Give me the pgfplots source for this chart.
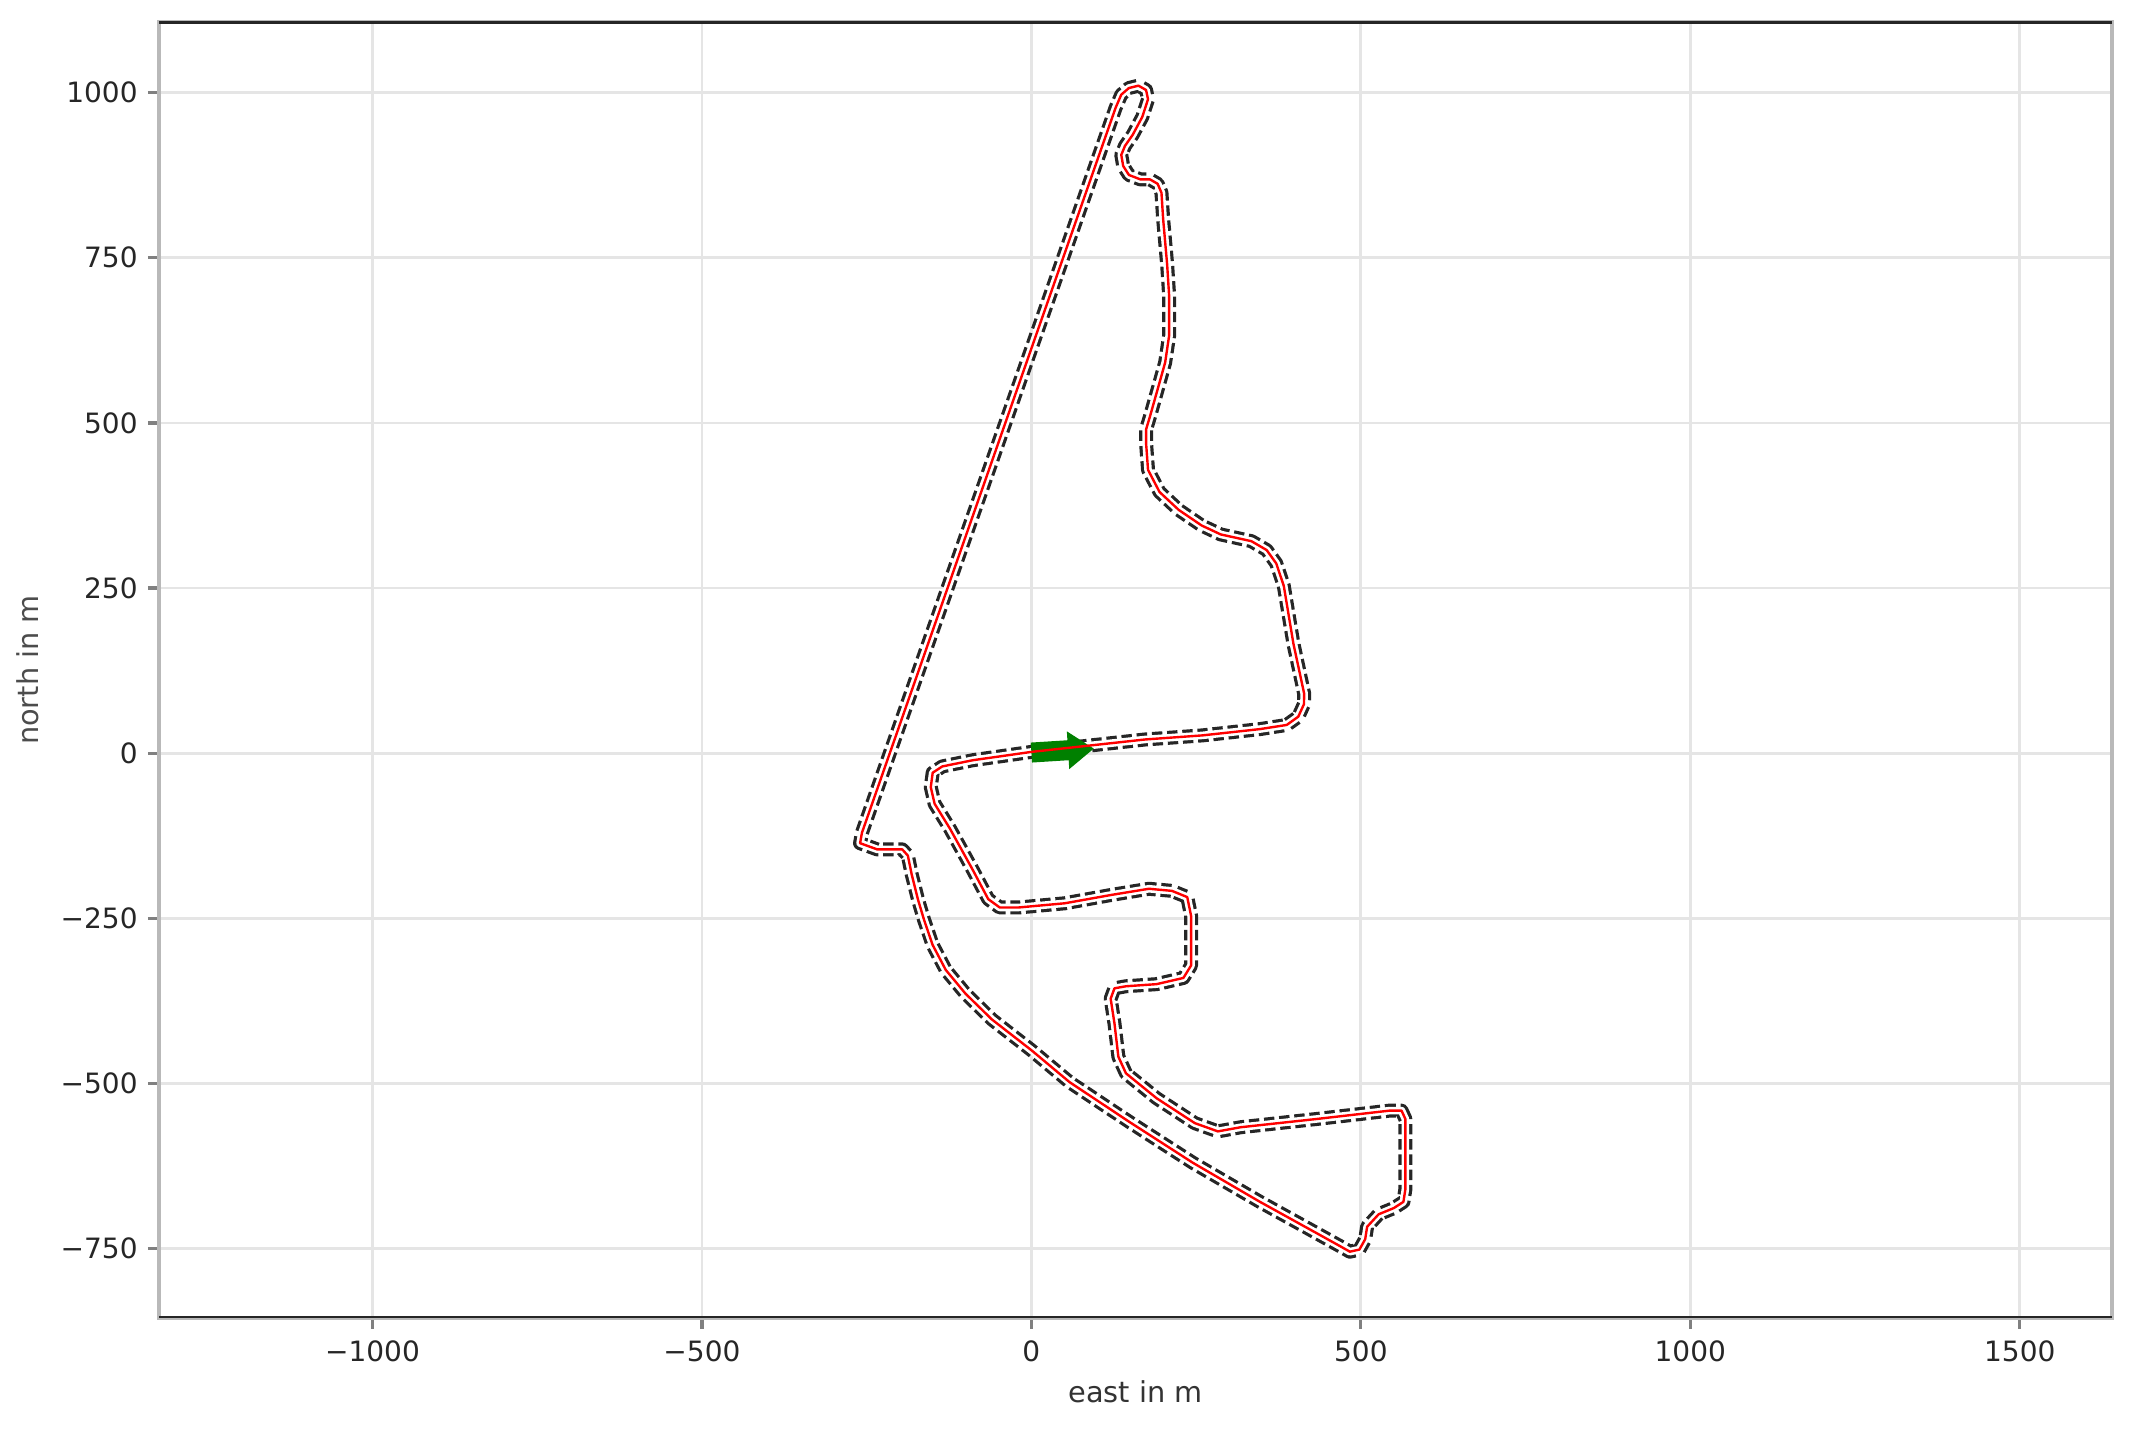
\documentclass[border=0pt]{standalone}
\usepackage{fontspec}
\setmainfont{DejaVu Sans}
\usepackage{pgfplots}
\pgfplotsset{compat=1.18}
\usepackage{pgfplotstable}
\usetikzlibrary{arrows.meta}

\pgfplotstableread{
x y
0 2
85.5 11.3
172.6 20.8
259.7 27
346.8 36.5
387.5 42.8
405 55.3
413.6 74.1
414 90
397.7 165.6
383 253.5
371.6 287.3
357 307.6
333.9 321
287.4 331.2
258.3 344.8
223.5 368.4
194.5 395.4
177 429
174 470
174 490
180 510
191.6 551
203 591.5
209 632
209 693
206 740
200 808
197.4 848.4
191.6 862
180 868.7
165.4 868.7
148 875.4
139.3 889
136.4 905.8
142 919.4
153.8 936.3
168.3 963.3
177 990
174 1004
162.5 1010.6
148 1007
136.4 997
127.7 976.8
-257.2 -120.5
-260 -136.2
-234 -145.6
-196 -145.6
-187.5 -155
-181.7 -183.3
-172 -222
-163 -252
-150 -290
-130 -328
-100 -364
-60 -403
0 -449.6
58 -498
150 -559
245 -620
346.6 -679
430 -725
468 -746
483.3 -754.6
497.8 -751.4
506.6 -735.7
509.5 -716.9
527 -698
550 -688.6
564.6 -679.2
567.5 -660.4
567.5 -553.6
561.7 -541
544.3 -541
434 -553.6
317.8 -566.2
283 -572.5
248 -560
190 -522.3
143.5 -484.6
132 -459.5
126.1 -409.3
120.3 -371.6
126.1 -355.9
143.5 -352.8
190 -349.6
230.7 -340.2
242.3 -321.4
242.3 -246
236.5 -217.8
213.3 -208.4
178.4 -205.2
120.3 -214.7
50.6 -227.2
-19 -233.5
-48.1 -233.5
-65.5 -220.9
-88.8 -177
-123.6 -114.2
-146.9 -76.5
-152.7 -51.4
-149.8 -29.5
-135.2 -20
-88.8 -10.6
0 2
}\track

\begin{document}
\begin{tikzpicture}
\begin{axis}[
  scale only axis, width=488.25pt, height=324pt,
  xmin=-1324, xmax=1640, ymin=-855, ymax=1107,
  xtick={-1000,-500,0,500,1000,1500},
  xticklabels={−1000,−500,0,500,1000,1500},
  ytick={-750,-500,-250,0,250,500,750,1000},
  yticklabels={−750,−500,−250,0,250,500,750,1000},
  tick pos=left, tick align=outside, major tick length=2.75pt,
  every tick/.style={black!50, line width=0.8pt},
  grid=major, major grid style={gray!20, line width=0.7pt},
  axis line style={gray!55, line width=0.9pt},
  ticklabel style={text=black!85, font=\fontsize{7}{8.4}\selectfont},
  xticklabel style={anchor=center, yshift=-5.65pt},
  yticklabel style={anchor=east, inner xsep=0pt, xshift=-2.4pt},
  xlabel={east in m}, ylabel={north in m},
  every axis x label/.style={at={(axis description cs:0.5,0)}, anchor=center, yshift=-18.4pt, font=\fontsize{7.2}{8.6}\selectfont, text=black!80},
  every axis y label/.style={at={([xshift=-32.9pt]axis description cs:0,0.5)}, anchor=center, rotate=90, font=\fontsize{7.2}{8.6}\selectfont, text=black!70},
]
\addplot[black!85, line width=3.5pt, dash pattern=on 2.6pt off 1.2pt, line join=round] table {\track};
\addplot[white, line width=1.9pt, line join=round] table {\track};
\addplot[draw=green!50!black, line width=5pt, quiver={u=95, v=6}, -{Triangle[width=9pt, length=6.5pt]}] coordinates {(0,1)};
\addplot[red, line width=0.6pt, line join=round] table {\track};
\draw[black!85, line width=0.9pt] (rel axis cs:0,0) -- (rel axis cs:1,0);
\draw[black!85, line width=0.9pt] (rel axis cs:0,1) -- (rel axis cs:1,1);
\end{axis}
\path ([shift={(-39.75pt,-28.25pt)}]current axis.south west) rectangle ([shift={(6.75pt,5.5pt)}]current axis.north east);
\end{tikzpicture}
\end{document}
